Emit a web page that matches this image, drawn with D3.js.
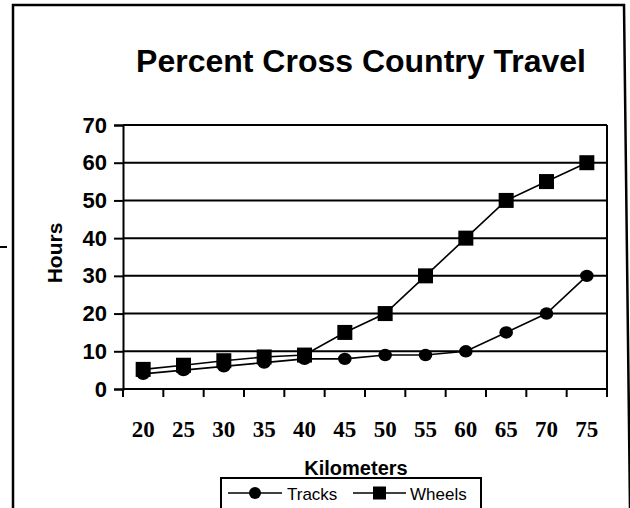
<!DOCTYPE html>
<html>
<head>
<meta charset="utf-8">
<script src="https://cdn.jsdelivr.net/npm/d3@7"></script>
<style>
  body { margin: 0; background: #fff; }
  svg { display: block; }
</style>
</head>
<body>
<svg id="svg" width="630" height="508"></svg>
<script>
const width = 630;
const height = 508;

// data
const kilometers = ["20", "25", "30", "35", "40", "45", "50", "55", "60", "65", "70", "75"];
const tracks = [4, 5, 6, 7, 8, 8, 9, 9, 10, 15, 20, 30];
const wheels = [5.2, 6.3, 7.5, 8.5, 9, 15, 20, 30, 40, 50, 55, 60];
const yTicks = [0, 10, 20, 30, 40, 50, 60, 70];

const plotLeft = 123, plotRight = 607, plotTop = 125, plotBottom = 389;

const svg = d3.select("#svg");

const x = d3.scaleBand().domain(kilometers).range([plotLeft, plotRight]).padding(0);
const y = d3.scaleLinear().domain([0, 70]).range([plotBottom, plotTop]);
const cx = (d) => x(d) + x.bandwidth() / 2;

// outer frame (scanned, right edge a bit slanted)
svg.append("path")
  .attr("d", "M13,508 L13,5 L624,5 L630,508")
  .attr("fill", "none")
  .attr("stroke", "#000")
  .attr("stroke-width", 2.5);
// stray mark on the left
svg.append("line")
  .attr("x1", 0).attr("x2", 7).attr("y1", 247).attr("y2", 247)
  .attr("stroke", "#000").attr("stroke-width", 2);

// title
svg.append("text")
  .attr("x", 361)
  .attr("y", 72)
  .attr("text-anchor", "middle")
  .style("font-family", "Liberation Sans, Arial, sans-serif")
  .style("font-weight", "bold")
  .style("font-size", "32px")
  .text("Percent Cross Country Travel");

// gridlines
svg.selectAll(".grid")
  .data(yTicks.filter((d) => d > 0))
  .enter()
  .append("line")
  .attr("class", "grid")
  .attr("x1", plotLeft).attr("x2", plotRight)
  .attr("y1", (d) => y(d)).attr("y2", (d) => y(d))
  .attr("stroke", "#000")
  .attr("stroke-width", 2);

// y axis
const yAxis = svg.append("g")
  .attr("transform", `translate(${plotLeft},0)`)
  .call(d3.axisLeft(y).tickValues(yTicks).tickSize(9).tickPadding(7));
yAxis.select(".domain").attr("stroke-width", 2);
yAxis.selectAll(".tick line").attr("stroke-width", 2);
yAxis.selectAll("text")
  .style("font-family", "Liberation Sans, Arial, sans-serif")
  .style("font-weight", "bold")
  .style("font-size", "22px");

// right border of the plot
svg.append("line")
  .attr("x1", plotRight).attr("x2", plotRight)
  .attr("y1", plotTop).attr("y2", plotBottom + 8)
  .attr("stroke", "#000").attr("stroke-width", 2);

// x axis line and ticks between categories
svg.append("line")
  .attr("x1", plotLeft).attr("x2", plotRight)
  .attr("y1", plotBottom).attr("y2", plotBottom)
  .attr("stroke", "#000").attr("stroke-width", 2);
svg.selectAll(".xtick")
  .data(kilometers)
  .enter()
  .append("line")
  .attr("class", "xtick")
  .attr("x1", (d) => x(d)).attr("x2", (d) => x(d))
  .attr("y1", plotBottom).attr("y2", plotBottom + 8)
  .attr("stroke", "#000").attr("stroke-width", 2);
svg.selectAll(".xlabel")
  .data(kilometers)
  .enter()
  .append("text")
  .attr("class", "xlabel")
  .attr("x", cx)
  .attr("y", 437)
  .attr("text-anchor", "middle")
  .style("font-family", "Liberation Serif, Times New Roman, serif")
  .style("font-weight", "bold")
  .style("font-size", "23px")
  .text((d) => d);

// axis titles
svg.append("text")
  .attr("transform", "translate(62,253) rotate(-90)")
  .attr("text-anchor", "middle")
  .style("font-family", "Liberation Sans, Arial, sans-serif")
  .style("font-weight", "bold")
  .style("font-size", "21px")
  .text("Hours");
svg.append("text")
  .attr("x", 356)
  .attr("y", 475)
  .attr("text-anchor", "middle")
  .style("font-family", "Liberation Sans, Arial, sans-serif")
  .style("font-weight", "bold")
  .style("font-size", "20px")
  .text("Kilometers");

// series
const line = d3.line().x((d, i) => cx(kilometers[i])).y((d) => y(d));
[tracks, wheels].forEach((s) => {
  svg.append("path")
    .datum(s)
    .attr("d", line)
    .attr("fill", "none")
    .attr("stroke", "#000")
    .attr("stroke-width", 1.6);
});
svg.selectAll(".dot")
  .data(tracks)
  .enter()
  .append("ellipse")
  .attr("class", "dot")
  .attr("cx", (d, i) => cx(kilometers[i]))
  .attr("cy", (d) => y(d))
  .attr("rx", 6.8).attr("ry", 6.2)
  .attr("fill", "#000");
svg.selectAll(".sq")
  .data(wheels)
  .enter()
  .append("rect")
  .attr("class", "sq")
  .attr("x", (d, i) => cx(kilometers[i]) - 7.5)
  .attr("y", (d) => y(d) - 7.5)
  .attr("width", 15).attr("height", 15)
  .attr("fill", "#000");

// legend
const legend = svg.append("g");
legend.append("rect")
  .attr("x", 221).attr("y", 478)
  .attr("width", 260).attr("height", 40)
  .attr("fill", "#fff")
  .attr("stroke", "#000").attr("stroke-width", 2);
const legendItems = [
  { name: "Tracks", x0: 228, x1: 282, tx: 287 },
  { name: "Wheels", x0: 353, x1: 406, tx: 410 }
];
legendItems.forEach((d, i) => {
  legend.append("line")
    .attr("x1", d.x0).attr("x2", d.x1)
    .attr("y1", 493).attr("y2", 493)
    .attr("stroke", "#000").attr("stroke-width", 1.6);
  const m = (d.x0 + d.x1) / 2;
  if (i === 0) {
    legend.append("circle").attr("cx", m).attr("cy", 493).attr("r", 6).attr("fill", "#000");
  } else {
    legend.append("rect").attr("x", m - 6.5).attr("y", 486.5).attr("width", 13).attr("height", 13).attr("fill", "#000");
  }
  legend.append("text")
    .attr("x", d.tx)
    .attr("y", 500)
    .style("font-family", "Liberation Sans, Arial, sans-serif")
    .style("font-size", "17px")
    .text(d.name);
});
</script>
</body>
</html>
